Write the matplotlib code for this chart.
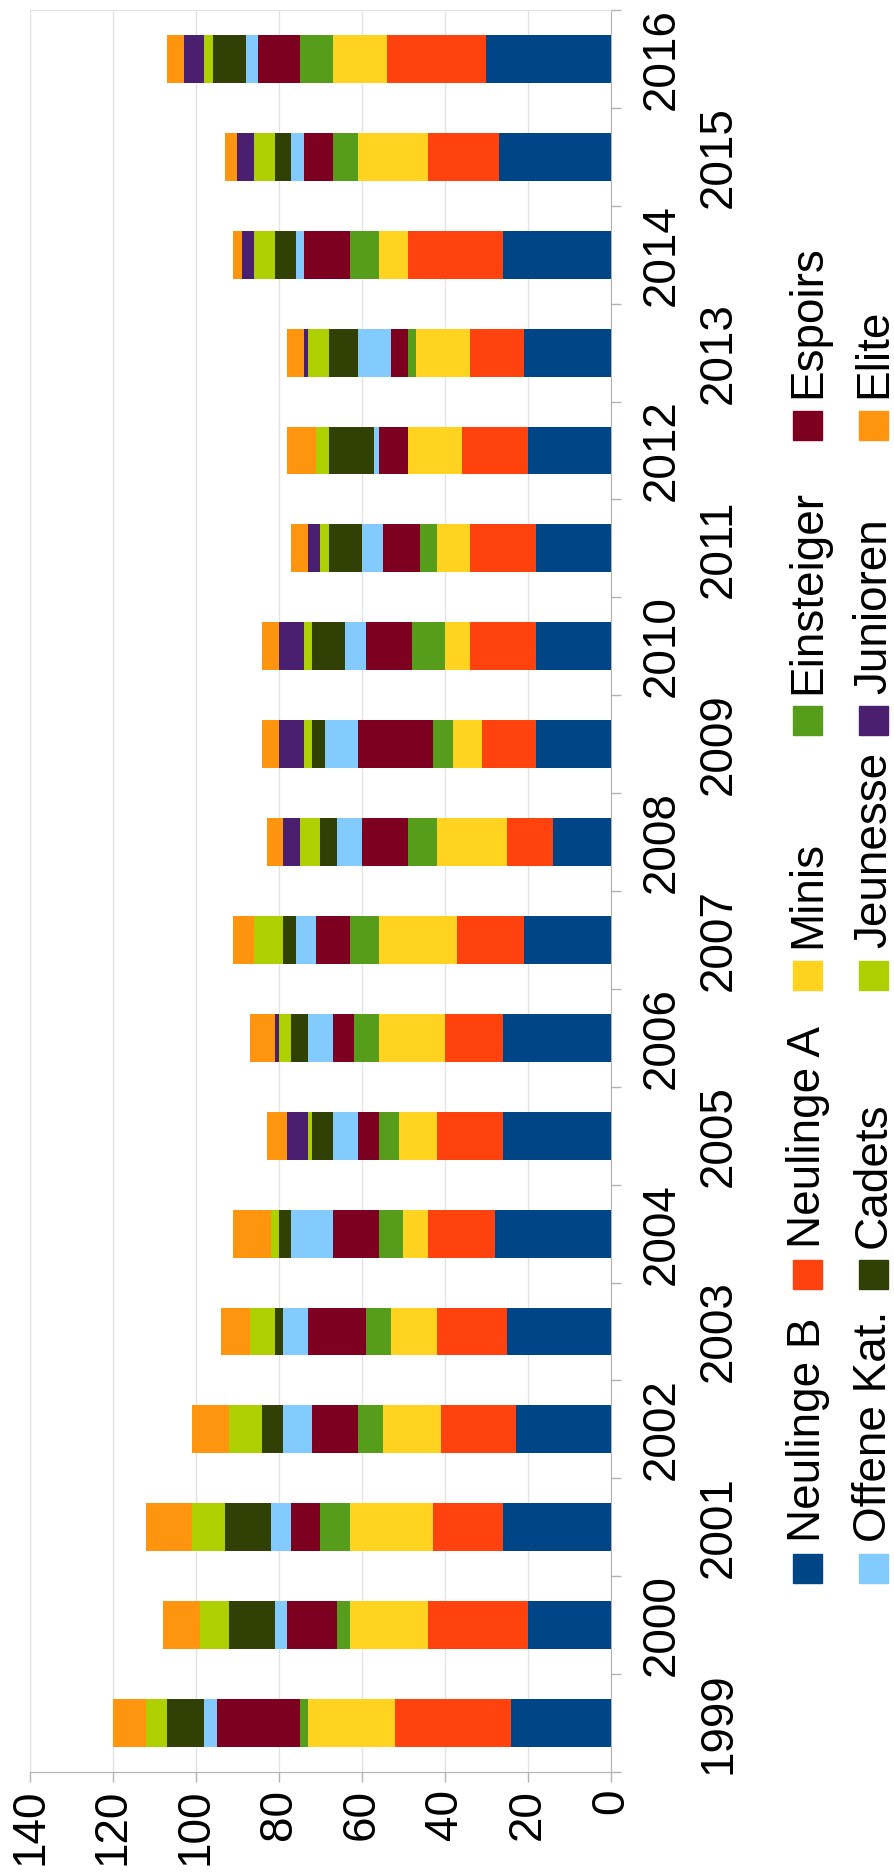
import matplotlib
matplotlib.use('Agg')
import matplotlib.pyplot as plt
import matplotlib.transforms as mtransforms
from matplotlib.patches import Rectangle

plt.rcParams['font.family'] = ['Liberation Sans', 'DejaVu Sans']

# data
years = [str(y) for y in range(1999, 2017)]
series_names = ['Neulinge B', 'Neulinge A', 'Minis', 'Einsteiger', 'Espoirs',
                'Offene Kat.', 'Cadets', 'Jeunesse', 'Junioren', 'Elite']
neulinge_b = [24, 20, 26, 23, 25, 28, 26, 26, 21, 14, 18, 18, 18, 20, 21, 26, 27, 30]
neulinge_a = [28, 24, 17, 18, 17, 16, 16, 14, 16, 11, 13, 16, 16, 16, 13, 23, 17, 24]
minis = [21, 19, 20, 14, 11, 6, 9, 16, 19, 17, 7, 6, 8, 13, 13, 7, 17, 13]
einsteiger = [2, 3, 7, 6, 6, 6, 5, 6, 7, 7, 5, 8, 4, 0, 2, 7, 6, 8]
espoirs = [20, 12, 7, 11, 14, 11, 5, 5, 8, 11, 18, 11, 9, 7, 4, 11, 7, 10]
offene_kat = [3, 3, 5, 7, 6, 10, 6, 6, 5, 6, 8, 5, 5, 1, 8, 2, 3, 3]
cadets = [9, 11, 11, 5, 2, 3, 5, 4, 3, 4, 3, 8, 8, 11, 7, 5, 4, 8]
jeunesse = [5, 7, 8, 8, 6, 2, 1, 3, 7, 5, 2, 2, 2, 3, 5, 5, 5, 2]
junioren = [0, 0, 0, 0, 0, 0, 5, 1, 0, 4, 6, 6, 3, 0, 1, 3, 4, 5]
elite = [8, 9, 11, 9, 7, 9, 5, 6, 5, 4, 4, 4, 4, 7, 4, 2, 3, 4]
value_ticks = [0, 20, 40, 60, 80, 100, 120, 140]

series = [neulinge_b, neulinge_a, minis, einsteiger, espoirs,
          offene_kat, cadets, jeunesse, junioren, elite]
colors = ['#004586', '#ff420e', '#ffd320', '#579d1c', '#7e0021',
          '#83caff', '#314004', '#aecf00', '#4b1f6f', '#ff950e']

W, H = 895, 1872
fig = plt.figure(figsize=(W / 100, H / 100), dpi=100)
ax = fig.add_axes([30 / W, 100 / H, 581 / W, 1762 / H])

# chart is turned on its side: bars run from right (0) to left (140)
pos = list(range(len(years)))
left = [0] * len(years)
for vals, col in zip(series, colors):
    ax.barh(pos, vals, left=left, height=0.49, color=col, linewidth=0, zorder=3)
    left = [a + b for a, b in zip(left, vals)]

ax.set_xlim(140, 0)
ax.set_ylim(-0.5, len(years) - 0.5)

ax.set_xticks(value_ticks)
ax.set_xticklabels([str(v) for v in value_ticks], rotation=90, fontsize=33)
ax.tick_params(axis='x', direction='out', length=7, width=1, color='#b3b3b3', pad=5)
ax.grid(axis='x', color='#e3e3e3', linewidth=1, zorder=0)

ax.yaxis.tick_right()
ax.set_yticks([p - 0.5 for p in pos] + [len(years) - 0.5])
ax.set_yticklabels([])
ax.tick_params(axis='y', direction='out', length=7, width=1, color='#b3b3b3')

for side in ['left', 'top']:
    ax.spines[side].set_color('#e3e3e3')
for side in ['right', 'bottom']:
    ax.spines[side].set_color('#b3b3b3')

# staggered year labels
trans = mtransforms.blended_transform_factory(fig.transFigure, ax.transData)
for p, yr in zip(pos, years):
    xc = 719 if int(yr) % 2 == 1 else 662
    ax.text(xc / W, p, yr, transform=trans, rotation=90, fontsize=33,
            ha='center', va='center')

# legend, drawn by hand because the text is rotated
col_y = [1568, 1274, 975, 720, 425]
row_x = [808, 874]
msize = 29
for i, (name, col) in enumerate(zip(series_names, colors)):
    r, c = divmod(i, 5)
    xc, yc = row_x[r], col_y[c]
    fig.patches.append(Rectangle(((xc - msize / 2) / W, 1 - (yc + msize / 2) / H),
                                 msize / W, msize / H, color=col,
                                 transform=fig.transFigure, figure=fig))
    fig.text(xc / W, 1 - (yc - msize / 2 - 12) / H, name, rotation=90,
             rotation_mode='anchor', ha='left', va='center', fontsize=33)

fig.savefig('out.png', dpi=100, facecolor='white')
